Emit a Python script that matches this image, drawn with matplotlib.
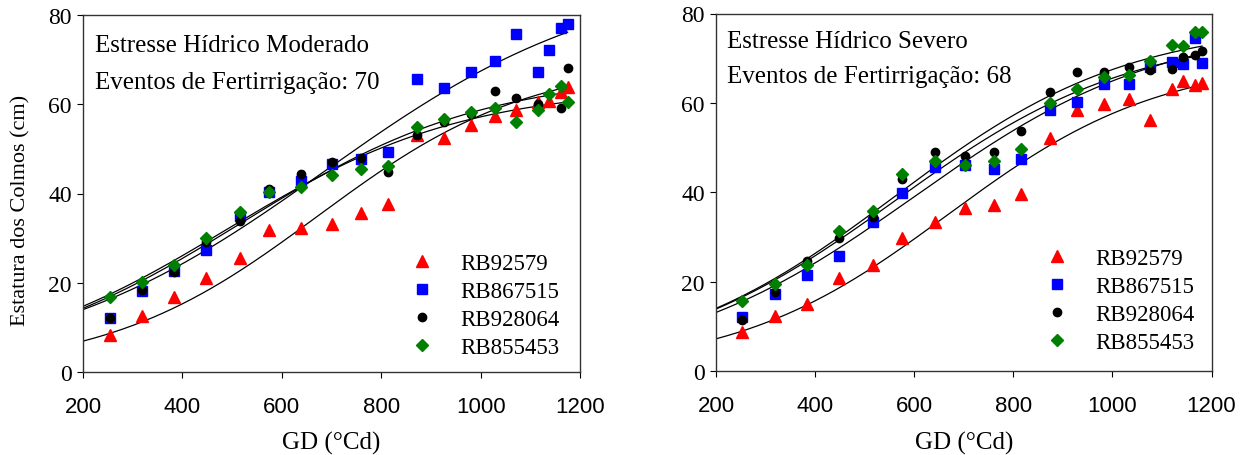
import numpy as np
import matplotlib
matplotlib.use("Agg")
import matplotlib.pyplot as plt

plt.rcParams['font.family'] = ['Liberation Serif', 'DejaVu Serif']

# ---------------- data ----------------
cultivars = ["RB92579", "RB867515", "RB928064", "RB855453"]

gd_mod = [254, 319, 383, 447, 516, 574, 639, 701, 760, 814, 872, 926, 980, 1029, 1072, 1116, 1137, 1161, 1175]
red_mod = [8.4, 12.6, 16.7, 21.1, 25.6, 31.8, 32.2, 33.1, 35.6, 37.6, 53.1, 52.5, 55.3, 57.3, 58.6, 60.4, 60.8, 62.8, 63.9]
blue_mod = [12.0, 18.1, 22.7, 27.4, 34.9, 40.4, 42.9, 46.6, 47.7, 49.4, 65.7, 63.6, 67.3, 69.6, 75.7, 67.3, 72.2, 77.1, 78.0]
black_mod = [12.0, 18.4, 22.3, 29.1, 33.8, 41.0, 44.4, 47.1, 48.0, 44.8, 53.0, 56.1, 57.8, 63.0, 61.4, 60.0, np.nan, 59.2, 68.2]
green_mod = [16.7, 20.2, 24.0, 30.0, 35.9, 40.4, 41.4, 44.1, 45.6, 46.1, 54.8, 56.8, 58.2, 59.2, 56.1, 58.6, 62.2, 64.2, 60.6]

gd_sev = [253, 320, 383, 448, 517, 575, 641, 702, 762, 816, 875, 929, 984, 1034, 1076, 1120, 1142, 1167, 1181]
red_sev = [8.7, 12.4, 15.0, 20.8, 23.8, 29.7, 33.3, 36.4, 37.2, 39.6, 52.1, 58.5, 59.8, 60.9, 56.1, 63.1, 64.8, 63.9, 64.5]
blue_sev = [12.0, 17.2, 21.5, 25.7, 33.4, 39.9, 45.7, 46.0, 45.1, 47.4, 58.3, 60.3, 64.3, 64.3, 68.1, 69.2, 68.6, 74.5, 68.9]
black_sev = [11.4, 17.6, 24.7, 29.8, 34.4, 43.0, 49.0, 48.2, 49.1, 53.8, 62.5, 67.0, 67.0, 68.1, 67.3, 67.5, 70.2, 70.8, 71.5]
green_sev = [15.6, 19.5, 23.8, 31.3, 35.8, 44.0, 46.9, 46.1, 47.0, 49.6, 60.0, 63.0, 65.7, 66.3, 69.3, 73.0, 72.7, 75.8, 75.8]

# sigmoid fit parameters (a, x0, b): y = a / (1 + exp(-(x - x0)/b))
fit_mod = [(70, 673, 214), (90, 686, 287), (67, 520, 245), (64, 490, 240)]
fit_sev = [(70, 668, 216), (78, 600, 250), (76, 560, 240), (78, 560, 237)]

titles = ["Estresse Hídrico Moderado", "Estresse Hídrico Severo"]
events = ["Eventos de Fertirrigação: 70", "Eventos de Fertirrigação: 68"]
xticks = [200, 400, 600, 800, 1000, 1200]
yticks = [0, 20, 40, 60, 80]

# ---------------- style ----------------
colors = ["#ff0000", "#0000ff", "#000000", "#008000"]
markers = ["^", "s", "o", "D"]
msizes = [8, 6.5, 6, 6.5]

fig = plt.figure(figsize=(12.42, 4.56), dpi=100)
ax1 = fig.add_axes([83/1242, 1-373/456, 497/1242, 357/456])
ax2 = fig.add_axes([716/1242, 1-372/456, 495.5/1242, 357.5/456])

panels = [
    (ax1, gd_mod, [red_mod, blue_mod, black_mod, green_mod], fit_mod,
     (0.024, 0.900, 0.7955), (0.617, 0.358), -0.2137),
    (ax2, gd_sev, [red_sev, blue_sev, black_sev, green_sev], fit_sev,
     (0.0228, 0.9055, 0.8075), (0.6234, 0.370), -0.2162),
]

for i, (ax, gd, series, fits, tpos, lpos, xl_y) in enumerate(panels):
    handles = []
    for k, ys in enumerate(series):
        h, = ax.plot(gd, ys, linestyle='none', marker=markers[k], ms=msizes[k],
                     color=colors[k], markeredgecolor=colors[k], label=cultivars[k], zorder=3 + k)
        handles.append(h)
    for k, (a, x0, b) in enumerate(fits):
        xx = np.linspace(200, gd[-1], 300)
        ax.plot(xx, a / (1 + np.exp(-(xx - x0) / b)), color='black', lw=0.9, zorder=2)
    ax.set_xlim(200, 1200)
    ax.set_ylim(0, 80)
    ax.set_xticks(xticks)
    ax.set_yticks(yticks)
    ax.tick_params(direction='out', length=4.5, width=0.8)
    ax.tick_params(axis='x', labelsize=16, pad=12.5)
    ax.tick_params(axis='y', labelsize=17, pad=3.5)
    for lab in ax.get_xticklabels():
        lab.set_fontfamily('Liberation Sans')
    for s in ax.spines.values():
        s.set_linewidth(1.0)
        s.set_color('#333333')
    ax.set_xlabel("GD (°Cd)", fontsize=18, va='baseline')
    ax.xaxis.set_label_coords(0.5, xl_y)
    ax.text(tpos[0], tpos[1], titles[i], transform=ax.transAxes, fontsize=18, va='baseline', ha='left')
    ax.text(tpos[0], tpos[2], events[i], transform=ax.transAxes, fontsize=18, va='baseline', ha='left')
    ax.legend(handles=handles, loc='upper left', bbox_to_anchor=(lpos[0], lpos[1]), frameon=False,
              fontsize=16.5, numpoints=1, handlelength=2.0, handletextpad=0.67, labelspacing=0.30,
              borderaxespad=0.0, borderpad=0.4)

ax1.set_ylabel("Estatura dos Colmos (cm)", fontsize=16)
ax1.yaxis.set_label_coords(-0.105, 0.4566)

fig.savefig("out.png", dpi=100)
